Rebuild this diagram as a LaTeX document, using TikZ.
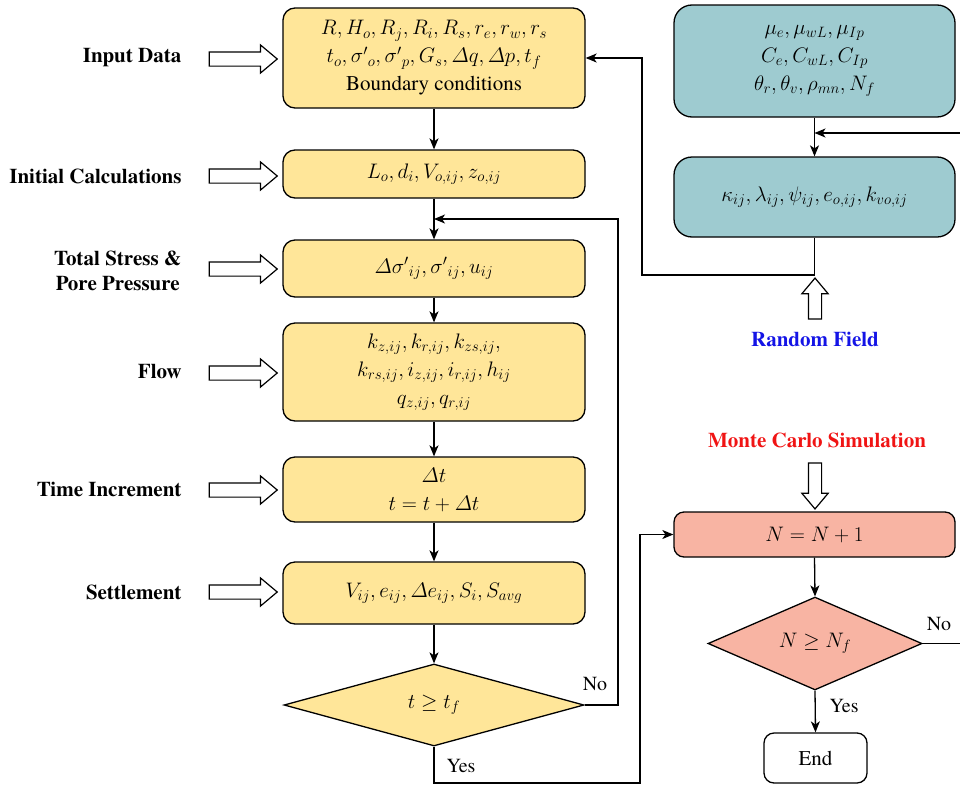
\RequirePackage{fix-cm}
\documentclass[tikz,border=0pt]{standalone}
\usepackage{amsmath}
\usepackage{fontspec}
\setmainfont{texgyretermes}[Extension=.otf, UprightFont=*-regular, BoldFont=*-bold, ItalicFont=*-italic, BoldItalicFont=*-bolditalic]
\DeclareMathSizes{21}{21}{15}{11}
\usetikzlibrary{shapes.geometric,shapes.arrows,arrows.meta}
\definecolor{boxyellow}{HTML}{FFE699}
\definecolor{boxteal}{HTML}{9ECBD0}
\definecolor{boxsalmon}{HTML}{F8B4A3}
\definecolor{rfblue}{HTML}{1414E6}
\definecolor{mcred}{HTML}{F01414}
\tikzset{
  every node/.style={font=\fontsize{21}{28}\selectfont},
  ybox/.style={draw=black, line width=1.3pt, fill=boxyellow, rounded corners=12pt,
    minimum width=302pt, align=center, inner sep=0pt},
  tbox/.style={draw=black, line width=1.3pt, fill=boxteal, rounded corners=18pt,
    minimum width=281pt, align=center, inner sep=0pt},
  sbox/.style={draw=black, line width=1.3pt, fill=boxsalmon, rounded corners=10pt,
    minimum width=281pt, minimum height=45pt, align=center, inner sep=0pt},
  decis/.style={draw=black, line width=1.3pt, shape=diamond, inner sep=0pt},
  sidelabel/.style={anchor=east, font=\fontsize{21}{25}\selectfont\bfseries, align=right},
  hollowarrow/.style={draw=black, line width=1.2pt, fill=white, shape=single arrow,
    inner xsep=0pt, inner ysep=6.5pt, single arrow head extend=7pt,
    single arrow tip angle=80, minimum height=68pt},
  conn/.style={line width=1.3pt, -{Stealth[length=11pt,width=9pt,inset=3pt]}},
  note/.style={font=\fontsize{20}{24}\selectfont},
}
\begin{document}
\begin{tikzpicture}[x=1pt,y=-1pt]
\clip (0,0) rectangle (960,787);
\useasboundingbox (0,0) rectangle (960,787);

% main column
\node[ybox, minimum height=100pt] (in) at (434,58)
  {$R, H_o, R_j, R_i, R_s, r_e, r_w, r_s$\\
   $t_o, {\sigma'}_{o}, {\sigma'}_{p}, G_s, \varDelta q, \varDelta p, t_f$\\
   Boundary conditions};
\node[ybox, minimum height=48pt] (ic) at (434,174) {$L_o, d_i, V_{o,ij}, z_{o,ij}$};
\node[ybox, minimum height=57pt] (ts) at (434,268.5) {$\varDelta{\sigma'}_{ij}, {\sigma'}_{ij}, u_{ij}$};
\node[ybox, minimum height=98pt] (fl) at (434,372)
  {$k_{z,ij}, k_{r,ij}, k_{zs,ij},$\\
   $k_{rs,ij}, i_{z,ij}, i_{r,ij}, h_{ij}$\\
   $q_{z,ij}, q_{r,ij}$};
\node[ybox, minimum height=65pt] (ti) at (434,489.5) {$\varDelta t$\\ $t = t + \varDelta t$};
\node[ybox, minimum height=62pt] (se) at (434,593) {$V_{ij}, e_{ij}, \varDelta e_{ij}, S_i, S_{avg}$};
\node[decis, fill=boxyellow, minimum width=300pt, minimum height=82pt] (dt) at (434,705) {$t \geq t_f$};

% side labels
\node[sidelabel] (lin) at (185,58) {Input Data};
\node[sidelabel] (lic) at (185,176) {Initial Calculations};
\node[sidelabel, align=center] (lts) at (185,271) {Total Stress \&\\Pore Pressure};
\node[sidelabel] (lfl) at (185,372) {Flow};
\node[sidelabel] (lti) at (185,489) {Time Increment};
\node[sidelabel] (lse) at (185,592) {Settlement};

\node[hollowarrow] (ain) at (239,59) {};
\node[hollowarrow] (aic) at (239,176) {};
\node[hollowarrow] (ats) at (239,269) {};
\node[hollowarrow] (afl) at (239,373) {};
\node[hollowarrow] (ati) at (239,490) {};
\node[hollowarrow] (ase) at (239,592) {};

% right column
\node[tbox, minimum height=112pt] (t1) at (814.5,61)
  {$\mu_e, \mu_{wL}, \mu_{Ip}$\\
   $C_e, C_{wL}, C_{Ip}$\\
   $\theta_r, \theta_v, \rho_{mn}, N_f$};
\node[tbox, minimum height=80pt] (t2) at (814.5,197)
  {$\kappa_{ij}, \lambda_{ij}, \psi_{ij}, e_{o,ij}, k_{vo,ij}$};

\node[hollowarrow, rotate=90, minimum height=41pt, inner ysep=6pt, single arrow head extend=6.5pt] (arf) at (815,302.5) {};
\node[font=\fontsize{21}{25}\selectfont\bfseries, text=rfblue] (rf) at (815,339) {Random Field};

\node[font=\fontsize{21}{25}\selectfont\bfseries, text=mcred] (mc) at (817,440) {Monte Carlo Simulation};
\node[hollowarrow, rotate=-90, minimum height=46pt, inner ysep=6pt, single arrow head extend=6.5pt] (amc) at (815,482) {};

\node[sbox] (nn) at (814.5,534.5) {$N = N + 1$};
\node[decis, fill=boxsalmon, minimum width=214pt, minimum height=81pt] (nd) at (815,643.5) {$N \geq N_f$};
\node[draw=black, line width=1.3pt, fill=white, rounded corners=10pt,
      minimum width=103pt, minimum height=50pt, inner sep=0pt] (en) at (815.5,758) {End};

% coordinates
\coordinate (j1) at (814.5,133);
\coordinate (j2) at (434,219);
\coordinate (c2) at (642,275);
\coordinate (cy) at (640,783);
\coordinate (cn) at (618,705);
\coordinate (cr) at (985,643.5);

% connectors main column
\draw[conn] (in.south) -- (ic.north);
\draw[conn] (ic.south) -- (ts.north);
\draw[conn] (ts.south) -- (fl.north);
\draw[conn] (fl.south) -- (ti.north);
\draw[conn] (ti.south) -- (se.north);
\draw[conn] (se.south) -- (dt.north);
\draw[conn] (dt.east) -- (cn) |- (j2);
\draw[conn] (dt.south) |- (cy) |- (nn.west);

% right connectors
\draw[conn] (t1.south) -- (t2.north);
\draw[conn] (t2.south) |- (c2) |- (in.east);
\draw[conn] (nn.south) -- (nd.north);
\draw[conn] (nd.south) -- (en.north);
\draw[conn] (nd.east) -- (cr) |- (j1);

% branch labels
\node[note] (no1) at (595,684) {No};
\node[note] (ye1) at (461,766) {Yes};
\node[note] (no2) at (939,624) {No};
\node[note] (ye2) at (844,706) {Yes};
\end{tikzpicture}
\end{document}
